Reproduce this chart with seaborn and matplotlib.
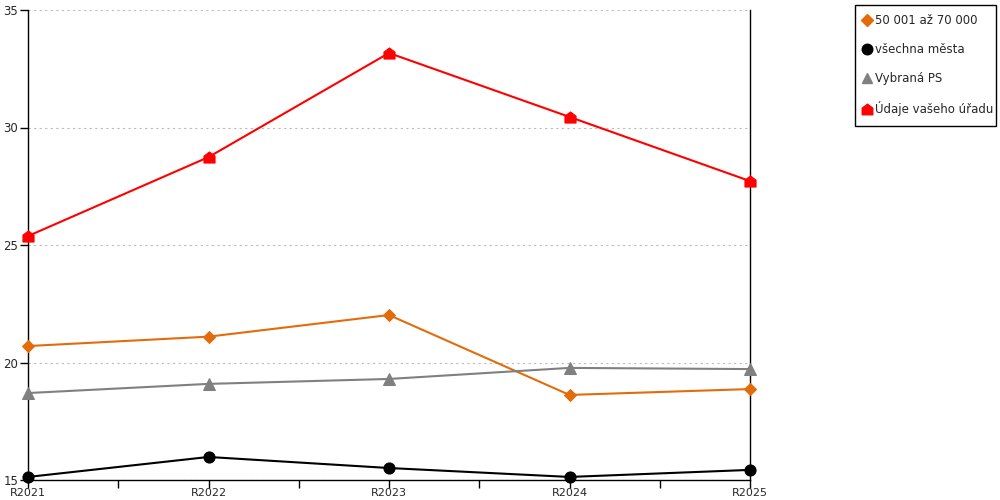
import matplotlib
matplotlib.use("Agg")
import matplotlib.pyplot as plt
import seaborn as sns
import pandas as pd
import numpy as np
from matplotlib.path import Path
from matplotlib.lines import Line2D
from matplotlib.patches import Rectangle

categories = ["R2021", "R2022", "R2023", "R2024", "R2025"]
s_orange = [20.7, 21.1, 22.02, 18.62, 18.87]
s_black = [15.13, 15.98, 15.51, 15.13, 15.43]
s_gray = [18.7, 19.09, 19.3, 19.77, 19.72]
s_red = [25.38, 28.74, 33.17, 30.45, 27.72]
names = ["50 001 až 70 000", "všechna města", "Vybraná PS", "Údaje vašeho úřadu"]
colors = ["#E36C0A", "#000000", "#808080", "#FF0000"]
y_ticks = [15, 20, 25, 30, 35]

sns.set_style("white")
plt.rcParams['font.family'] = ['DejaVu Sans']

house = Path([(-1, -1), (1, -1), (1, 0.25), (0, 1), (-1, 0.25), (-1, -1)],
             [Path.MOVETO, Path.LINETO, Path.LINETO, Path.LINETO, Path.LINETO, Path.CLOSEPOLY])
markers = ["D", "o", "^", house]
msizes = [6, 8, 8, 8]

fig = plt.figure(figsize=(10, 5), dpi=100)
ax = fig.add_axes([0.028, 0.04, 0.722, 0.94])

x = np.arange(len(categories))
series = [s_orange, s_black, s_gray, s_red]
for vals, name, c, m, ms in zip(series, names, colors, markers, msizes):
    df = pd.DataFrame({"x": x, "y": vals})
    sns.lineplot(data=df, x="x", y="y", ax=ax, color=c, marker=m, markersize=ms,
                 markeredgecolor=c, linewidth=1.5, sort=False, zorder=3, clip_on=False)

ax.set_xlim(0, 4)
ax.set_ylim(15, 35)
ax.set_yticks(y_ticks)
ax.set_yticklabels([str(t) for t in y_ticks])
ax.set_xticks(x)
ax.set_xticklabels(categories)
ax.set_xticks(x[:-1] + 0.5, minor=True)
ax.set_xlabel("")
ax.set_ylabel("")
ax.grid(axis="y", color="#BBBBBB", linestyle=(0, (2, 3)), linewidth=0.8)
ax.grid(axis="x", visible=False)
ax.spines["top"].set_visible(False)
for sp in ["left", "bottom", "right"]:
    ax.spines[sp].set_visible(True)
    ax.spines[sp].set_color("black")
    ax.spines[sp].set_linewidth(1)
ax.tick_params(axis="x", which="both", direction="out", length=6, width=1, color="black",
               labelsize=8, pad=0, bottom=True)
ax.tick_params(axis="y", direction="out", length=6, width=1, color="black", labelsize=8.5, pad=1, left=True)

handles = [Line2D([0], [0], color=c, marker=m, linestyle="none", markersize=ms * 0.95,
                  markeredgecolor=c) for c, m, ms in zip(colors, markers, msizes)]
leg = fig.legend(handles, names, loc="upper left", bbox_to_anchor=(0.854, 0.99),
                 frameon=False, fontsize=8.5,
                 handletextpad=0.35, labelspacing=1.35, borderpad=0.75, handlelength=0.7,
                 borderaxespad=0)
fig.patches.append(Rectangle((0.855, 1 - 126 / 500), 0.141, 121 / 500, transform=fig.transFigure,
                             fill=False, edgecolor="black", linewidth=1))

fig.savefig("out.png", dpi=100, facecolor="white")
